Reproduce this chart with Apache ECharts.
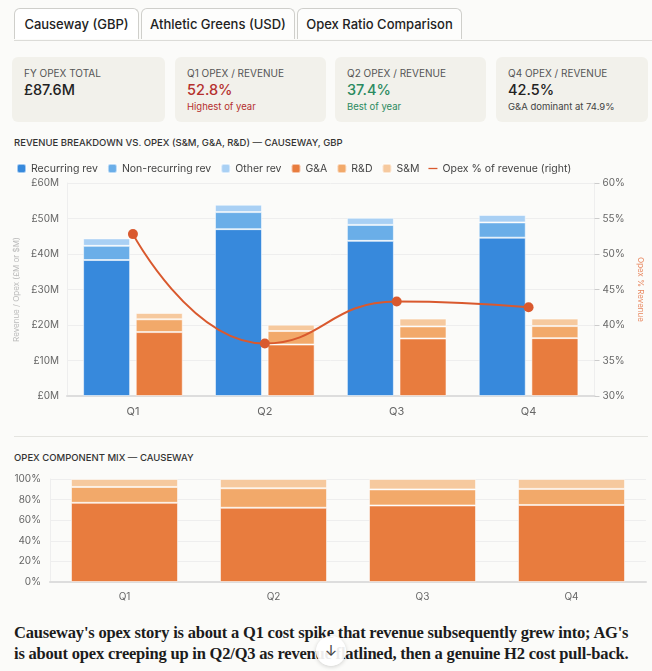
<!DOCTYPE html>
<html>
<head>
<meta charset="utf-8">
<script src="https://cdn.jsdelivr.net/npm/echarts@6/dist/echarts.min.js"></script>
<style>
  html, body { margin: 0; padding: 0; background: #fbfbf9; }
  body { width: 652px; height: 671px; position: relative; overflow: hidden; font-family: Inter, "Noto Sans", sans-serif; color: #222; }
  .tabs { position: absolute; left: 14px; top: 8px; right: 0; height: 32px; border-bottom: 1px solid #dcdcd8; }
  .tab { position: absolute; top: 0; height: 30px; line-height: 30px; border: 1px solid #cfcfcb; border-bottom: none; border-radius: 6px 6px 0 0; background: #fdfdfc; font-size: 13px; font-weight: 500; text-align: center; color: #222; }
  .card { position: absolute; top: 57px; height: 65px; background: #f2f1eb; border-radius: 6px; }
  .card .lbl { position: absolute; left: 12px; top: 10px; font-size: 10px; color: #555; }
  .card .val { position: absolute; left: 12px; top: 24px; font-size: 14.5px; font-weight: 500; }
  .card .sub { position: absolute; left: 12px; top: 44px; font-size: 9.5px; }
  .title { position: absolute; left: 14px; font-size: 9.5px; font-weight: 500; color: #333; }
  .sep { position: absolute; left: 14px; right: 4px; top: 436px; height: 1px; background: #e4e4e0; }
  .story { position: absolute; left: 14px; top: 622px; width: 640px; font-family: "Liberation Serif", "DejaVu Serif", serif; font-size: 16.5px; font-weight: 700; line-height: 21px; color: #1c1c1c; letter-spacing: -0.2px; white-space: nowrap; }
  .down { position: absolute; left: 316px; top: 636px; width: 30px; height: 30px; border-radius: 50%; background: rgba(255,255,255,0.92); box-shadow: 0 1px 4px rgba(0,0,0,0.18); text-align: center; line-height: 30px; font-size: 15px; color: #444; }
</style>
</head>
<body>
<div class="tabs">
  <div class="tab" style="left:0;width:123px;background:#fff;">Causeway (GBP)</div>
  <div class="tab" style="left:127px;width:152px;">Athletic Greens (USD)</div>
  <div class="tab" style="left:283px;width:163px;">Opex Ratio Comparison</div>
</div>

<div class="card" style="left:12px;width:153px;"><div class="lbl">FY OPEX TOTAL</div><div class="val">£87.6M</div></div>
<div class="card" style="left:175px;width:151px;"><div class="lbl">Q1 OPEX / REVENUE</div><div class="val" style="color:#b5302e">52.8%</div><div class="sub" style="color:#b5302e">Highest of year</div></div>
<div class="card" style="left:335px;width:151px;"><div class="lbl">Q2 OPEX / REVENUE</div><div class="val" style="color:#2b8a60">37.4%</div><div class="sub" style="color:#2b8a60">Best of year</div></div>
<div class="card" style="left:496px;width:152px;"><div class="lbl">Q4 OPEX / REVENUE</div><div class="val">42.5%</div><div class="sub" style="color:#444">G&amp;A dominant at 74.9%</div></div>

<div class="title" style="top:137px;">REVENUE BREAKDOWN VS. OPEX (S&amp;M, G&amp;A, R&amp;D) — CAUSEWAY, GBP</div>
<div id="main" style="position:absolute;left:0;top:150px;width:652px;height:275px;"></div>
<div class="sep"></div>
<div class="title" style="top:452px;">OPEX COMPONENT MIX — CAUSEWAY</div>
<div id="mix" style="position:absolute;left:0;top:470px;width:652px;height:140px;"></div>

<div class="story">Causeway's opex story is about a Q1 cost spike that revenue subsequently grew into; AG's<br>is about opex creeping up in Q2/Q3 as revenue flatlined, then a genuine H2 cost pull-back.</div>
<div class="down">↓</div>

<script>
const quarters = ['Q1', 'Q2', 'Q3', 'Q4'];
// revenue, £M
const recurringRev = [38.3, 47.0, 43.7, 44.6];
const nonRecurringRev = [4.0, 4.8, 4.5, 4.3];
const otherRev = [2.1, 2.1, 2.0, 2.1];
// opex, £M
const gaOpex = [18.0, 14.5, 16.2, 16.3];
const rdOpex = [3.6, 3.8, 3.4, 3.4];
const smOpex = [1.8, 1.8, 2.2, 2.1];
// opex as % of revenue
const opexPct = [52.8, 37.4, 43.3, 42.5];
const leftTicks = ['£0M', '£10M', '£20M', '£30M', '£40M', '£50M', '£60M'];

const C = {
  rec: '#3789dc', non: '#6aaee8', oth: '#a9d0f4',
  ga: '#e87c3e', rd: '#f2a96a', sm: '#f6c99e', line: '#d9592e'
};
const axisText = { color: '#666', fontSize: 10, fontFamily: 'Inter, sans-serif' };
const edge = { borderColor: 'rgba(255,255,255,0.55)', borderWidth: 1 };

function bar(name, data, stack, color) {
  return {
    name, type: 'bar', stack, data, barWidth: 47, barGap: '12%',
    itemStyle: Object.assign({ color }, edge)
  };
}

const main = echarts.init(document.getElementById('main'));
main.setOption({
  animation: false,
  textStyle: { fontFamily: 'Inter, sans-serif' },
  legend: {
    left: 11, top: 8, itemWidth: 9, itemHeight: 9, itemGap: 9,
    textStyle: { color: '#444', fontSize: 10.5 },
    data: [
      { name: 'Recurring rev', icon: 'roundRect' },
      { name: 'Non-recurring rev', icon: 'roundRect' },
      { name: 'Other rev', icon: 'roundRect' },
      { name: 'G&A', icon: 'roundRect' },
      { name: 'R&D', icon: 'roundRect' },
      { name: 'S&M', icon: 'roundRect' },
      { name: 'Opex % of revenue (right)', icon: 'path://M0,0 M0,4 L14,4 L14,6 L0,6 Z M14,10' }
    ]
  },
  grid: { left: 67, right: 54, top: 33, bottom: 29 },
  xAxis: {
    type: 'category', data: quarters,
    axisLine: { lineStyle: { color: '#ddd', width: 2 } },
    axisTick: { show: false },
    axisLabel: Object.assign({ margin: 10 }, axisText, { fontSize: 11 })
  },
  yAxis: [
    {
      type: 'value', min: 0, max: 60, interval: 10,
      name: 'Revenue / Opex (£M or $M)', nameLocation: 'middle', nameGap: 37,
      nameTextStyle: { color: '#bbb', fontSize: 8 },
      axisLine: { show: true, lineStyle: { color: '#eee' } },
      splitLine: { lineStyle: { color: '#eee' } },
      axisLabel: Object.assign({ formatter: (v) => leftTicks[v / 10] }, axisText)
    },
    {
      type: 'value', min: 30, max: 60, interval: 5,
      name: 'Opex % Revenue', nameLocation: 'middle', nameGap: 36, nameRotate: -90,
      nameTextStyle: { color: '#e8875f', fontSize: 8 },
      axisLine: { show: true, lineStyle: { color: '#eee' } },
      axisTick: { show: true, length: 5, lineStyle: { color: '#ccc' } },
      splitLine: { show: false },
      axisLabel: Object.assign({ formatter: '{value}%', margin: 8 }, axisText)
    }
  ],
  series: [
    bar('Recurring rev', recurringRev, 'rev', C.rec),
    bar('Non-recurring rev', nonRecurringRev, 'rev', C.non),
    bar('Other rev', otherRev, 'rev', C.oth),
    bar('G&A', gaOpex, 'opex', C.ga),
    bar('R&D', rdOpex, 'opex', C.rd),
    bar('S&M', smOpex, 'opex', C.sm),
    {
      name: 'Opex % of revenue (right)', type: 'line', yAxisIndex: 1, data: opexPct,
      smooth: true, symbol: 'circle', symbolSize: 10,
      lineStyle: { color: C.line, width: 2 }, itemStyle: { color: C.line }
    }
  ]
});

// share of each opex component per quarter, %
const opexTotal = quarters.map((q, i) => gaOpex[i] + rdOpex[i] + smOpex[i]);
const share = (arr) => arr.map((v, i) => +(v / opexTotal[i] * 100).toFixed(1));

function mixBar(name, data, color) {
  return { name, type: 'bar', stack: 'mix', data, barWidth: 107, itemStyle: Object.assign({ color }, edge) };
}

const mix = echarts.init(document.getElementById('mix'));
mix.setOption({
  animation: false,
  textStyle: { fontFamily: 'Inter, sans-serif' },
  grid: { left: 50, right: 6, top: 9, bottom: 28 },
  xAxis: {
    type: 'category', data: quarters,
    axisLine: { lineStyle: { color: '#ddd', width: 2 } },
    axisTick: { show: false },
    axisLabel: Object.assign({ margin: 10 }, axisText)
  },
  yAxis: {
    type: 'value', min: 0, max: 100, interval: 20,
    axisLine: { show: true, lineStyle: { color: '#eee' } },
    splitLine: { lineStyle: { color: '#eee' } },
    axisLabel: Object.assign({ formatter: '{value}%', margin: 9 }, axisText)
  },
  series: [
    mixBar('G&A', share(gaOpex), C.ga),
    mixBar('R&D', share(rdOpex), C.rd),
    mixBar('S&M', share(smOpex), C.sm)
  ]
});
</script>
</body>
</html>
